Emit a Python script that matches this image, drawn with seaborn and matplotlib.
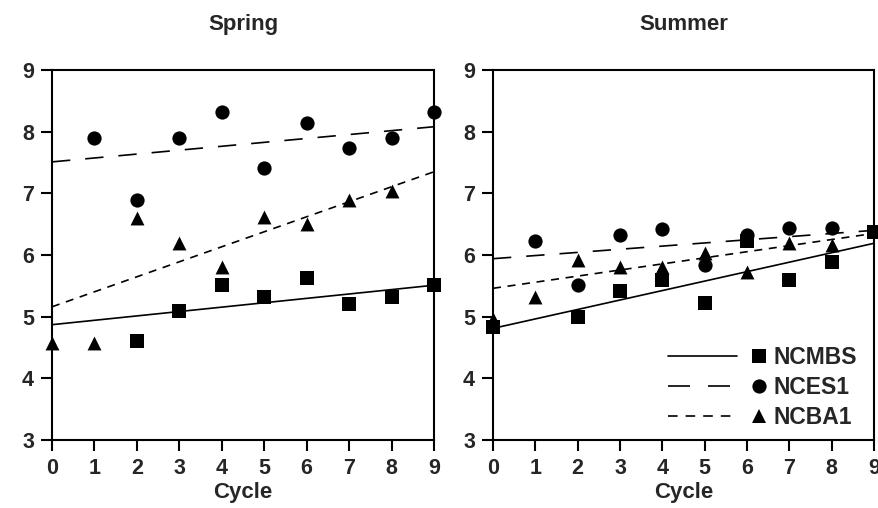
import numpy as np
import pandas as pd
import matplotlib
matplotlib.use("Agg")
import matplotlib.pyplot as plt
import seaborn as sns
from matplotlib.lines import Line2D
from matplotlib.legend_handler import HandlerBase

nan = np.nan

# ---------------- data ----------------
cycles = list(range(10))
sites = ["NCMBS", "NCES1", "NCBA1"]
seasons = ["Spring", "Summer"]

spring_ncmbs = [nan, nan, 4.60, 5.10, 5.51, 5.32, 5.62, 5.20, 5.32, 5.51]
spring_nces1 = [nan, 7.90, 6.89, 7.90, 8.32, 7.41, 8.14, 7.73, 7.90, 8.32]
spring_ncba1 = [4.57, 4.57, 6.60, 6.19, 5.81, 6.62, 6.51, 6.89, 7.03, nan]

summer_ncmbs = [4.84, nan, 5.00, 5.41, 5.60, 5.22, 6.22, 5.60, 5.89, 6.37]
summer_nces1 = [nan, 6.22, 5.51, 6.32, 6.42, 5.84, 6.32, 6.43, 6.43, nan]
summer_ncba1 = [4.96, 5.32, 5.92, 5.81, 5.81, 6.03, 5.73, 6.19, 6.16, nan]

# fitted trend lines: values at cycle 0 and cycle 9
trend_cycles = [0, 9]
spring_trend_ncmbs = [4.87, 5.51]
spring_trend_nces1 = [7.51, 8.08]
spring_trend_ncba1 = [5.16, 7.35]
summer_trend_ncmbs = [4.81, 6.19]
summer_trend_nces1 = [5.94, 6.40]
summer_trend_ncba1 = [5.46, 6.35]

x_ticks = list(range(10))
y_ticks = [3, 4, 5, 6, 7, 8, 9]
x_label = "Cycle"

# ---------------- tables ----------------
points = {
    "Spring": [spring_ncmbs, spring_nces1, spring_ncba1],
    "Summer": [summer_ncmbs, summer_nces1, summer_ncba1],
}
trends = {
    "Spring": [spring_trend_ncmbs, spring_trend_nces1, spring_trend_ncba1],
    "Summer": [summer_trend_ncmbs, summer_trend_nces1, summer_trend_ncba1],
}

rows = []
for season in seasons:
    for site, vals in zip(sites, points[season]):
        for c, v in zip(cycles, vals):
            if not np.isnan(v):
                rows.append(dict(season=season, site=site, cycle=c, value=v))
pts_df = pd.DataFrame(rows)

rows = []
for season in seasons:
    for site, vals in zip(sites, trends[season]):
        for c, v in zip(trend_cycles, vals):
            rows.append(dict(season=season, site=site, cycle=c, value=v))
trend_df = pd.DataFrame(rows)

# ---------------- style ----------------
sns.set_theme(style="ticks")
plt.rcParams["font.family"] = ["Liberation Sans", "DejaVu Sans"]
plt.rcParams["font.weight"] = "bold"
plt.rcParams["axes.linewidth"] = 1.5

markers = {"NCMBS": "s", "NCES1": "o", "NCBA1": "^"}
marker_sizes = {"NCMBS": 100, "NCES1": 105, "NCBA1": 100}
dashes = {"NCMBS": "", "NCES1": (11, 9), "NCBA1": (4.8, 4.0)}
line_w = 1.2

fig = plt.figure(figsize=(8.79, 5.08), dpi=100)
W, H = 879, 508
ax_boxes = [(52, 434), (493, 874)]
top_px, bot_px = 70, 440
axes = []
for (l, r) in ax_boxes:
    axes.append(fig.add_axes([l / W, 1 - bot_px / H, (r - l) / W, (bot_px - top_px) / H]))

for ax, season in zip(axes, seasons):
    tdf = trend_df[trend_df.season == season]
    sns.lineplot(data=tdf, x="cycle", y="value", style="site", style_order=sites,
                 dashes=dashes, color="black", linewidth=line_w, legend=False, ax=ax)
    pdf = pts_df[pts_df.season == season]
    for site in sites:
        sub = pdf[pdf.site == site]
        sns.scatterplot(data=sub, x="cycle", y="value", marker=markers[site],
                        s=marker_sizes[site], color="black", linewidth=0,
                        legend=False, ax=ax, clip_on=False, zorder=3)
    ax.set_xlim(0, 9)
    ax.set_ylim(3, 9)
    ax.set_xticks(x_ticks)
    ax.set_yticks(y_ticks)
    ax.tick_params(axis="both", length=8, width=1.5, pad=5, labelsize=15.5, color="black")
    for lab in ax.get_xticklabels() + ax.get_yticklabels():
        lab.set_fontweight("bold")
    ax.set_xlabel(x_label, fontsize=16, fontweight="bold", labelpad=2)
    ax.set_ylabel("")
    for sp in ax.spines.values():
        sp.set_visible(True)
        sp.set_color("black")
        sp.set_linewidth(1.5)
    cx = (ax.get_position().x0 + ax.get_position().x1) / 2
    fig.text(cx, 1 - 30 / H, season, ha="center", va="baseline",
             fontsize=16, fontweight="bold")


# ---------------- legend: line, then marker, then text ----------------
class LineThenMarker(HandlerBase):
    def __init__(self, dash, marker, msize):
        super().__init__()
        self.dash = dash
        self.marker = marker
        self.msize = msize

    def create_artists(self, legend, orig_handle, xdescent, ydescent, width,
                       height, fontsize, trans):
        y = height / 2 - ydescent
        x0 = -xdescent
        ln = Line2D([x0, x0 + 0.70 * width], [y, y], color="black", lw=line_w)
        if self.dash:
            ln.set_dashes(tuple(d * line_w for d in self.dash))
        mk = Line2D([x0 + 0.92 * width], [y], marker=self.marker, color="black",
                    markersize=self.msize, markeredgewidth=0, linestyle="none")
        ln.set_transform(trans)
        mk.set_transform(trans)
        return [ln, mk]


handles = []
hmap = {}
for site in sites:
    h = Line2D([], [], color="black")
    handles.append(h)
    hmap[h] = LineThenMarker(dashes[site], markers[site], np.sqrt(marker_sizes[site]))

leg = axes[1].legend(handles, sites, handler_map=hmap, loc="lower right",
                     bbox_to_anchor=(0.955, 0.03), frameon=False,
                     prop={"size": 16.5, "weight": "bold"}, handlelength=4.3,
                     handletextpad=0.3, labelspacing=0.3, borderaxespad=0,
                     borderpad=0)

fig.savefig("out.png", dpi=100)
